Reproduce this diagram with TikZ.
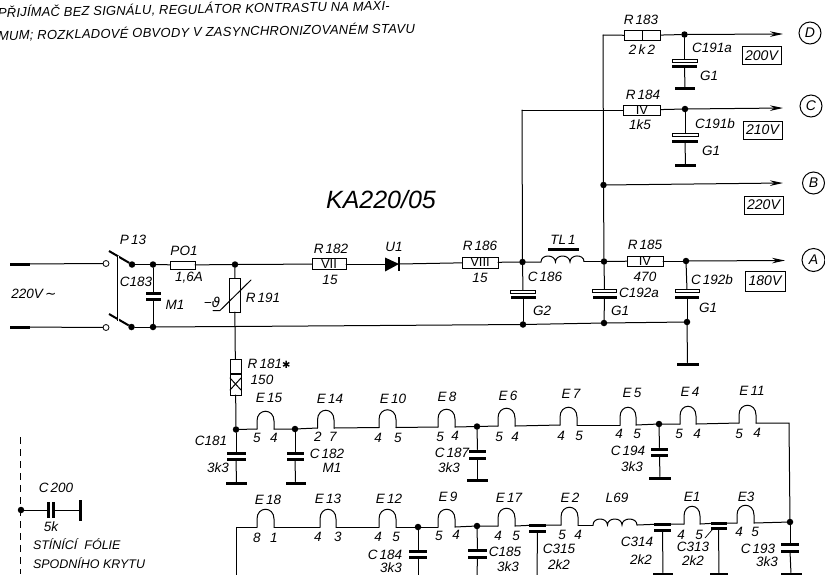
\documentclass[tikz,border=0pt]{standalone}
\usepackage{fontspec}
\setmainfont{Liberation Sans}
\newfontfamily\dejafont{DejaVu Sans}
\usetikzlibrary{arrows.meta}
\newcommand\labelfont{\fontsize{13.5}{13.5}\selectfont\itshape\spaceskip 2.2pt\relax}
\tikzset{
  wire/.style={line width=1pt,line cap=round},
  sig/.style={wire,-{Stealth[length=13pt,width=5.5pt]}},
  dot/.style={circle,fill=black,inner sep=0pt,outer sep=0pt,minimum size=6.5pt},
  opn/.style={circle,draw,fill=white,line width=0.8pt,inner sep=0pt,outer sep=0pt,minimum size=6pt},
  lab/.style={inner sep=0pt,outer sep=0pt,font=\labelfont},
  res/.style={rectangle,draw,fill=white,line width=1pt,inner sep=0pt,outer sep=0pt,font=\fontsize{13}{13}\selectfont},
  plate/.style={rectangle,fill=black,inner sep=0pt,outer sep=0pt,minimum height=3pt},
  hplate/.style={rectangle,draw,fill=white,line width=0.9pt,inner sep=0pt,outer sep=0pt,minimum height=3pt},
  gnd/.style={rectangle,fill=black,inner sep=0pt,outer sep=0pt,minimum height=3pt},
  term/.style={circle,draw,line width=1pt,inner sep=0pt,outer sep=0pt,minimum size=22pt,font=\fontsize{14}{14}\selectfont\itshape},
  volt/.style={rectangle,draw,line width=1pt,inner sep=0pt,outer sep=0pt,minimum width=39pt,minimum height=18pt,font=\fontsize{14}{14}\selectfont\itshape},
}
% hump of a bridged contact: name, x1, x2, y
\newcommand\hump[4]{%
  \coordinate (#1a) at (#2,#4);
  \coordinate (#1b) at (#3,#4);
  \draw[wire] (#1a) -- (#2,#4-8) .. controls (#2,#4-21) and (#3,#4-21) .. (#3,#4-8) -- (#1b);}
% capacitor: name, x, y top plate, y bottom plate, width
\newcommand\capa[5]{%
  \node[plate,minimum width=#5pt] (#1t) at (#2,#3) {};
  \node[plate,minimum width=#5pt] (#1b) at (#2,#4) {};}
\newcommand\ecap[5]{%
  \node[hplate,minimum width=#5pt] (#1t) at (#2,#3) {};
  \node[plate,minimum width=#5pt] (#1b) at (#2,#4) {};}
\begin{document}
\begin{tikzpicture}[x=1pt,y=-1pt]
\useasboundingbox (0,0) rectangle (825,574);
\clip (0,0) rectangle (825,574);
% ---- heading
\node[lab,font=\fontsize{13}{13}\selectfont\itshape,anchor=west,rotate=1] (h1) at (-2,12.5) {\addfontfeature{LetterSpace=1.5}PŘIJÍMAČ BEZ SIGNÁLU, REGULÁTOR KONTRASTU NA MAXI-};
\node[lab,font=\fontsize{13}{13}\selectfont\itshape,anchor=west,rotate=1] (h2) at (-2,35.5) {\addfontfeature{LetterSpace=2}MUM; ROZKLADOVÉ OBVODY V ZASYNCHRONIZOVANÉM STAVU};
\node[lab,font=\fontsize{25}{25}\selectfont\itshape] (title) at (381,200) {KA220/05};
% ---- mains input
\node[plate,minimum width=20pt,minimum height=3pt] (inA) at (20,264) {};
\node[plate,minimum width=20pt,minimum height=3pt] (inB) at (20,327) {};
\node[opn] (swa) at (106,263.5) {};
\node[opn] (swb) at (106,327.5) {};
\node[dot] (ja1) at (132,264.5) {};
\node[dot] (jb1) at (131.5,327) {};
\coordinate (bla) at (109,251);
\coordinate (blb) at (109,314);
\coordinate (lka) at (118,256);
\coordinate (lkb) at (118,321);
\draw[wire] (inA) -- (swa);
\draw[wire] (inB) -- (swb);
\draw[line width=2pt] (bla) -- (ja1);
\draw[line width=2pt] (blb) -- (jb1);
\draw[line width=2.6pt] (lka) -- (lkb);
\draw[white,line width=0.8pt] (lka) -- (lkb);
\node[dot] (ja2) at (153,264.5) {};
\node[dot] (jb2) at (153,327) {};
\capa{c183}{153}{293.5}{299.5}{15}
\draw[wire] (ja1) -- (ja2);
\draw[wire] (jb1) -- (jb2);
\draw[wire] (ja2) -- (c183t);
\draw[wire] (c183b) -- (jb2);
\node[res,minimum width=25pt,minimum height=8pt] (po1) at (182.5,265) {};
\draw[wire] (ja2) -- (po1);
\node[dot] (ja3) at (235,264.5) {};
\draw[wire] (po1) -- (ja3);
% R191 and R181
\node[res,minimum width=11pt,minimum height=34pt] (r191) at (234.5,295) {};
\coordinate (slA) at (213,310.5);
\coordinate (slB) at (220,310.5);
\coordinate (slC) at (251,280);
\draw[wire] (slA) -- (slB) -- (slC);
\draw[wire] (ja3) -- (r191);
\coordinate (jb3) at (235,326.5);
\draw[wire] (r191) -- (jb3);
\node[res,minimum width=11pt,minimum height=36pt] (r181) at (235.5,377) {};
\draw[wire] (jb3) -- (r181);
\draw[line width=2pt] (230,374) -- (241,374);
\draw[wire] (230,378) -- (241,390);
\draw[wire] (241,378) -- (230,390);
\node[dot] (jc1) at (236,429.5) {};
\draw[wire] (r181) -- (jc1);
\capa{c181}{236}{453}{459}{19}
\node[gnd,minimum width=21pt] (g181) at (236.5,483.5) {};
\draw[wire] (jc1) -- (c181t);
\draw[wire] (c181b) -- (g181);
% ---- mains line with series parts
\node[res,minimum width=34pt,minimum height=11pt] (r182) at (329,264) {VII};
\draw[wire] (ja3) -- (r182);
\coordinate (u1a) at (385,264);
\coordinate (u1b) at (399,264);
\fill (385,257.5) -- (385,271.5) -- (399,264) -- cycle;
\draw[line width=1.6pt] (399,257) -- (399,271);
\draw[wire] (r182) -- (u1a);
\node[res,minimum width=36pt,minimum height=11pt] (r186) at (480,262.5) {VIII};
\draw[wire] (u1b) -- (r186);
\node[dot] (ja4) at (522.5,262) {};
\draw[wire] (r186) -- (ja4);
\coordinate (tl1a) at (541,262);
\coordinate (tl1b) at (584,261.5);
\draw[wire] (ja4) -- (tl1a)
  .. controls (541,254) and (555,254) .. (555.5,262)
  .. controls (555.5,254) and (569.5,254) .. (570,262)
  .. controls (570,254) and (584,254) .. (tl1b);
\node[plate,minimum width=31pt,minimum height=3pt] (tl1bar) at (563.5,249) {};
\node[dot] (ja5) at (604,261.5) {};
\draw[wire] (tl1b) -- (ja5);
\node[res,minimum width=36pt,minimum height=10pt] (r185) at (645,261) {IV};
\draw[wire] (ja5) -- (r185);
\node[dot] (ja6) at (686,261) {};
\draw[wire] (r185) -- (ja6);
\coordinate (endA) at (785,260.5);
\draw[sig] (ja6) -- (endA);
% ---- lower rail
\node[dot] (jb4) at (523,324.5) {};
\node[dot] (jb5) at (604,323) {};
\node[dot] (jb6) at (687,322) {};
\draw[wire] (jb2) -- (jb3) -- (jb4) -- (jb5) -- (jb6);
\ecap{c186}{523}{291.5}{297.5}{25}
\draw[wire] (ja4) -- (c186t);
\draw[wire] (c186b) -- (jb4);
\ecap{c192a}{604.5}{291}{297.5}{24}
\draw[wire] (ja5) -- (c192at);
\draw[wire] (c192ab) -- (jb5);
\ecap{c192b}{687}{290.5}{297}{24}
\draw[wire] (ja6) -- (c192bt);
\draw[wire] (c192bb) -- (jb6);
\node[gnd,minimum width=22pt] (g192) at (687.5,364) {};
\draw[wire] (jb6) -- (g192);
% ---- upper branches
\coordinate (tp603) at (603,35);
\coordinate (tp522) at (522,110);
\node[dot] (jB) at (603.5,185) {};
\draw[wire] (ja5) -- (jB) -- (tp603);
\draw[wire] (ja4) -- (tp522);
\node[res,minimum width=36pt,minimum height=10pt] (r183) at (642.5,35.5) {};
\draw[wire] (r183.north) -- (r183.south);
\draw[wire] (tp603) -- (r183);
\node[dot] (jD) at (684.5,34.5) {};
\draw[wire] (r183) -- (jD);
\coordinate (endD) at (783,34);
\draw[sig] (jD) -- (endD);
\ecap{c191a}{684.5}{60.5}{66.5}{25}
\node[gnd,minimum width=20pt] (g191a) at (685,88.5) {};
\draw[wire] (jD) -- (c191at);
\draw[wire] (c191ab) -- (g191a);
\node[res,minimum width=37pt,minimum height=10pt] (r184) at (642,110) {IV};
\draw[wire] (tp522) -- (r184);
\node[dot] (jC) at (685,109) {};
\draw[wire] (r184) -- (jC);
\coordinate (endC) at (783,108);
\draw[sig] (jC) -- (endC);
\ecap{c191b}{685}{134.5}{141.5}{26}
\node[gnd,minimum width=21pt] (g191b) at (685.5,165.5) {};
\draw[wire] (jC) -- (c191bt);
\draw[wire] (c191bb) -- (g191b);
\coordinate (endB) at (783,183);
\draw[sig] (jB) -- (endB);
% terminals
\node[term] (tD) at (810,33) {D};
\node[term] (tC) at (811,106) {C};
\node[term] (tB) at (813.5,183) {B};
\node[term,minimum size=23pt] (tA) at (813.5,260) {A};
\node[volt] (v200) at (761.5,55.5) {200V};
\node[volt] (v210) at (762.5,130) {210V};
\node[volt] (v220) at (763.5,205) {220V};
\node[volt,minimum width=40pt,minimum height=20pt] (v180) at (765,281) {180V};
% ---- first row of contacts
\hump{e15}{257}{274}{429}
\node[dot] (jc2) at (295,429) {};
\capa{c182}{295}{453}{459}{17}
\node[gnd,minimum width=20pt] (g182) at (295.5,483) {};
\hump{e14}{317.5}{334}{428}
\hump{e10}{379}{396}{427.5}
\hump{e8}{438}{455}{427}
\node[dot] (jc3) at (477,426.5) {};
\capa{c187}{477.5}{451}{458}{17}
\node[gnd,minimum width=21pt] (g187) at (477.5,480) {};
\hump{e6}{498}{515}{426}
\hump{e7}{560}{577}{425}
\hump{e5}{620}{636}{425}
\node[dot] (jc4) at (659,424) {};
\capa{c194}{659.5}{449}{455.5}{17}
\node[gnd,minimum width=22pt] (g194) at (660,478) {};
\hump{e4}{680}{696}{424}
\hump{e11}{739}{756}{423}
\coordinate (cr) at (789,423);
\node[dot] (jd1) at (790,522) {};
\draw[wire] (jc1) -- (e15a);
\draw[wire] (e15b) -- (jc2) -- (e14a);
\draw[wire] (e14b) -- (e10a);
\draw[wire] (e10b) -- (e8a);
\draw[wire] (e8b) -- (jc3) -- (e6a);
\draw[wire] (e6b) -- (e7a);
\draw[wire] (e7b) -- (e5a);
\draw[wire] (e5b) -- (jc4) -- (e4a);
\draw[wire] (e4b) -- (e11a);
\draw[wire] (e11b) -- (cr) -- (jd1);
\draw[wire] (jc2) -- (c182t);
\draw[wire] (c182b) -- (g182);
\draw[wire] (jc3) -- (c187t);
\draw[wire] (c187b) -- (g187);
\draw[wire] (jc4) -- (c194t);
\draw[wire] (c194b) -- (g194);
% ---- second row of contacts
\coordinate (crl) at (236,527);
\coordinate (crlb) at (236,575);
\hump{e18}{257}{274}{527}
\hump{e13}{320}{336}{527}
\hump{e12}{379}{396}{527}
\node[dot] (je1) at (418,527) {};
\capa{c184}{418}{551}{557}{18}
\coordinate (e184) at (418,575);
\hump{e9}{438}{455}{527}
\node[dot] (je2) at (477,526) {};
\capa{c185}{477.5}{550}{557}{19}
\coordinate (e185) at (477,575);
\hump{e17}{498}{515}{526}
\capa{c315}{537.5}{525}{531}{17}
\coordinate (e315) at (537,575);
\hump{e2}{561}{578}{525}
\coordinate (l69a) at (593,525);
\coordinate (l69b) at (637,525);
\draw[wire] (l69a)
  .. controls (593,517) and (607,517) .. (607.5,525)
  .. controls (607.5,517) and (622,517) .. (622,525)
  .. controls (622,517) and (637,517) .. (l69b);
\capa{c314}{662.5}{524}{530}{17}
\node[gnd,minimum width=20pt] (g314) at (663,574) {};
\hump{e1}{684}{700}{524}
\capa{c313}{718.5}{523}{528.5}{16}
\node[gnd,minimum width=18pt] (g313) at (719,574) {};
\hump{e3}{737}{754}{523}
\capa{c193}{790}{544}{551}{18}
\node[gnd,minimum width=21pt] (g193) at (791,574) {};
\draw[wire] (crlb) -- (crl) -- (e18a);
\draw[wire] (e18b) -- (e13a);
\draw[wire] (e13b) -- (e12a);
\draw[wire] (e12b) -- (je1) -- (e9a);
\draw[wire] (e9b) -- (je2) -- (e17a);
\draw[wire] (e17b) -- (c315t) -- (e2a);
\draw[wire] (e2b) -- (l69a);
\draw[wire] (l69b) -- (c314t) -- (e1a);
\draw[wire] (e1b) -- (c313t) -- (e3a);
\draw[wire] (e3b) -- (jd1);
\draw[wire] (je1) -- (c184t);
\draw[wire] (c184b) -- (e184);
\draw[wire] (je2) -- (c185t);
\draw[wire] (c185b) -- (e185);
\draw[wire] (c315b) -- (e315);
\draw[wire] (c314b) -- (g314);
\draw[wire] (c313b) -- (g313);
\draw[wire] (jd1) -- (c193t);
\draw[wire] (c193b) -- (g193);
\coordinate (sl1) at (705,538);
\coordinate (sl2) at (712,530);
\draw[line width=0.7pt] (sl1) -- (sl2);
% ---- shield foil
\coordinate (dsa) at (20,437);
\coordinate (dsb) at (20,574);
\draw[line width=0.6pt,dash pattern=on 7pt off 5pt] (dsa) -- (dsb);
\node[dot] (js) at (21,510) {};
\node[plate,minimum width=3.2pt,minimum height=16pt] (c200a) at (48.5,510) {};
\node[plate,minimum width=3.2pt,minimum height=16pt] (c200b) at (53.5,510) {};
\node[plate,minimum width=3pt,minimum height=21pt] (c200g) at (80.5,510) {};
\draw[wire] (js) -- (c200a);
\draw[wire] (c200b) -- (c200g);
% ---- labels
\node[lab] (lP13) at (133,240) {P 13};
\node[lab] (lPO1) at (184,251) {PO1};
\node[lab] (l16A) at (189,278) {1,6A};
\node[lab] (l220) at (34,294) {220V\,{\dejafont\itshape∼}};
\node[lab] (lC183) at (136,282) {C183};
\node[lab] (lM1) at (175,305) {M1};
\node[lab] (lth) at (212,302) {−{\dejafont\itshape ϑ}};
\node[lab] (lR191) at (263,298) {R 191};
\node[lab] (lR181) at (269,364) {R 181{\dejafont\fontsize{10}{10}\selectfont ✱}};
\node[lab] (l150) at (262,380) {150};
\node[lab] (lR182) at (331,249) {R 182};
\node[lab] (l15a) at (330,280) {15};
\node[lab] (lU1) at (394,247) {U1};
\node[lab] (lR186) at (480,246) {R 186};
\node[lab] (l15b) at (480,278) {15};
\node[lab] (lTL1) at (563,240) {TL 1};
\node[lab] (lC186) at (545,277) {C 186};
\node[lab] (lG2) at (542,311) {G2};
\node[lab] (lC192a) at (639,293) {C192a};
\node[lab] (lG1a) at (620,311) {G1};
\node[lab] (lR185) at (645,245) {R 185};
\node[lab] (l470) at (645,277) {470};
\node[lab] (lC192b) at (712,280) {C 192b};
\node[lab] (lG1b) at (708,308) {G1};
\node[lab] (lR183) at (641,20) {R 183};
\node[lab] (l2k2t) at (642,50) {2 k 2};
\node[lab] (lC191a) at (712,48) {C191a};
\node[lab] (lG1c) at (709,76) {G1};
\node[lab] (lR184) at (643,95) {R 184};
\node[lab] (l1k5) at (640,125) {1k5};
\node[lab] (lC191b) at (715,124) {C191b};
\node[lab] (lG1d) at (711,151) {G1};
\node[lab] (lE15) at (269,398) {E 15};
\node[lab] (lE14) at (330,399) {E 14};
\node[lab] (lE10) at (393,399) {E 10};
\node[lab] (lE8) at (447,397) {E 8};
\node[lab] (lE6) at (508,396) {E 6};
\node[lab] (lE7) at (571,394) {E 7};
\node[lab] (lE5) at (632,393) {E 5};
\node[lab] (lE4) at (690,392) {E 4};
\node[lab] (lE11) at (752,391) {E 11};
\node[lab] (n1a) at (257,438) {5};
\node[lab] (n1b) at (274,438) {4};
\node[lab] (n2a) at (318,437) {2};
\node[lab] (n2b) at (333,437) {7};
\node[lab] (n3a) at (378,438) {4};
\node[lab] (n3b) at (398,438) {5};
\node[lab] (n4a) at (440,437) {5};
\node[lab] (n4b) at (455,436) {4};
\node[lab] (n5a) at (499,437) {5};
\node[lab] (n5b) at (515,437) {4};
\node[lab] (n6a) at (561,436) {4};
\node[lab] (n6b) at (579,436) {5};
\node[lab] (n7a) at (619,434) {4};
\node[lab] (n7b) at (637,434) {5};
\node[lab] (n8a) at (679,434) {5};
\node[lab] (n8b) at (697,434) {4};
\node[lab] (n9a) at (739,434) {5};
\node[lab] (n9b) at (757,433) {4};
\node[lab] (lC181) at (211,441) {C181};
\node[lab] (l3k3a) at (218,468) {3k3};
\node[lab] (lC182) at (327,454) {C 182};
\node[lab] (lM1b) at (332,468) {M1};
\node[lab] (lC187) at (452,453) {C 187};
\node[lab] (l3k3b) at (449,468) {3k3};
\node[lab] (lC194) at (628,451) {C 194};
\node[lab] (l3k3c) at (632,467) {3k3};
\node[lab] (lE18) at (268,500) {E 18};
\node[lab] (lE13) at (328,499) {E 13};
\node[lab] (lE12) at (389,499) {E 12};
\node[lab] (lE9) at (448,497) {E 9};
\node[lab] (lE17) at (509,498) {E 17};
\node[lab] (lE2) at (570,498) {E 2};
\node[lab] (lL69) at (617,498) {L69};
\node[lab] (lE1) at (692,497) {E1};
\node[lab] (lE3) at (746,497) {E3};
\node[lab] (m1a) at (257,538) {8};
\node[lab] (m1b) at (274,538) {1};
\node[lab] (m2a) at (318,537) {4};
\node[lab] (m2b) at (338,537) {3};
\node[lab] (m3a) at (378,537) {4};
\node[lab] (m3b) at (396,537) {5};
\node[lab] (m4a) at (439,536) {5};
\node[lab] (m4b) at (456,535) {4};
\node[lab] (m5a) at (498,536) {4};
\node[lab] (m5b) at (516,536) {5};
\node[lab] (m6a) at (562,535) {5};
\node[lab] (m6b) at (578,535) {4};
\node[lab] (m7a) at (681,534.5) {4};
\node[lab] (m7b) at (699,534.5) {5};
\node[lab] (m8a) at (739,532) {4};
\node[lab] (m8b) at (755,532) {5};
\node[lab] (lC184) at (385,555) {C 184};
\node[lab] (l3k3d) at (391,568) {3k3};
\node[lab] (lC185) at (505,552) {C185};
\node[lab] (l3k3e) at (508,567) {3k3};
\node[lab] (lC315) at (559,549) {C315};
\node[lab] (l2k2a) at (559,565) {2k2};
\node[lab] (lC314) at (637,542) {C314};
\node[lab] (l2k2b) at (641,560) {2k2};
\node[lab] (lC313) at (693,547) {C313};
\node[lab] (l2k2c) at (693,561) {2k2};
\node[lab] (lC193) at (758,549) {C 193};
\node[lab] (l3k3f) at (767,562) {3k3};
\node[lab] (lC200) at (56,488) {C 200};
\node[lab] (l5k) at (51,527) {5k};
\node[lab,font=\fontsize{12.5}{12.5}\selectfont\itshape,anchor=west] (lst) at (33,544) {STÍNÍCÍ\ \ FÓLIE};
\node[lab,font=\fontsize{12.5}{12.5}\selectfont\itshape,anchor=west] (lsp) at (33,563) {SPODNÍHO KRYTU};
\end{tikzpicture}
\end{document}
